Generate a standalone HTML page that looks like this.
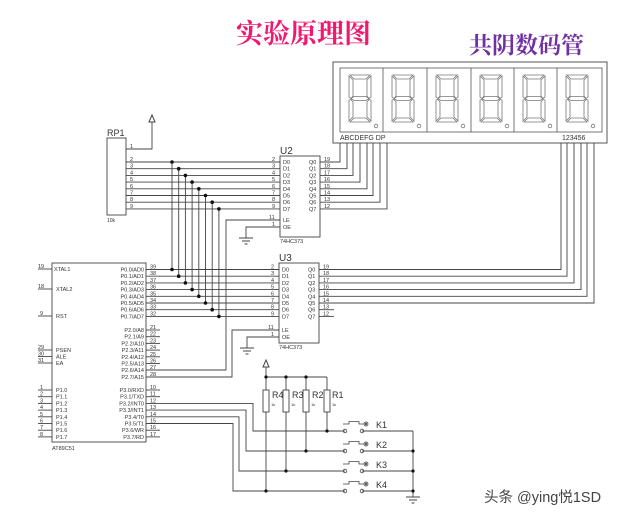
<!DOCTYPE html>
<html><head><meta charset="utf-8">
<style>
html,body{margin:0;padding:0;background:#fff;}
svg{display:block;}
.t{font-family:"Liberation Sans",sans-serif;fill:#333;}
.p{font-size:5.5px;}
</style></head>
<body>
<svg width="634" height="517" viewBox="0 0 634 517" xmlns="http://www.w3.org/2000/svg">
<defs>
<g id="dg" fill="none" stroke="#777" stroke-width="0.8">
<path d="M3,0 L23,0 L19,4 L7,4 Z"/>
<path d="M24,1 L24,22 L22,23.5 L20,21 L20,5 Z"/>
<path d="M24,25 L24,46 L20,42 L20,27 L22,24.5 Z"/>
<path d="M2,1 L6,5 L6,21 L4,23.5 L2,22 Z"/>
<path d="M2,25 L4,24.5 L6,27 L6,42 L2,46 Z"/>
<path d="M4,23.5 L7,21.5 L19,21.5 L22,23.5 L19,25.5 L7,25.5 Z"/>
<path d="M3,47 L7,43 L19,43 L23,47 Z"/>
<circle cx="29" cy="51" r="1.8"/>
</g>
<g id="gnd" stroke="#444" stroke-width="1" fill="none">
<line x1="-7" y1="0" x2="7" y2="0"/><line x1="-4" y1="3" x2="4" y2="3"/><line x1="-1.5" y1="6" x2="1.5" y2="6"/>
</g>
<g id="pwr" stroke="#444" stroke-width="1" fill="none">
<path d="M-3,7 L0,0 L3,7 Z"/>
</g>
<g id="btn" stroke="#444" stroke-width="0.8" fill="none">
<circle cx="345" cy="0" r="1.8"/><circle cx="362" cy="0" r="1.8"/>
<path d="M343,-7 L349,-7 L349,-9.5 L359,-9.5 L359,-7 L364,-7"/>
<circle cx="366" cy="-7" r="2"/><circle cx="366" cy="-7" r="0.8"/>
</g>
</defs>

<text x="236" y="43" font-family="'Liberation Serif','Noto Serif CJK SC',serif" font-size="27" font-weight="bold" fill="#f0186f">实验原理图</text>
<text x="469" y="53" font-family="'Liberation Serif','Noto Serif CJK SC',serif" font-size="23" font-weight="bold" fill="#7030a0">共阴数码管</text>

<rect x="333" y="62" width="274" height="81" fill="none" stroke="#555" stroke-width="1"/>
<rect x="340" y="68" width="262" height="64" fill="none" stroke="#555" stroke-width="0.8"/>
<g stroke="#555" stroke-width="0.8">
<line x1="383" y1="68" x2="383" y2="132"/><line x1="427" y1="68" x2="427" y2="132"/><line x1="471" y1="68" x2="471" y2="132"/><line x1="514" y1="68" x2="514" y2="132"/><line x1="557" y1="68" x2="557" y2="132"/>
</g>
<use href="#dg" x="347" y="75"/><use href="#dg" x="390" y="75"/><use href="#dg" x="434" y="75"/><use href="#dg" x="478" y="75"/><use href="#dg" x="521" y="75"/><use href="#dg" x="564" y="75"/>
<text x="340" y="140" class="t" font-size="7">ABCDEFG  DP</text>
<text x="562" y="140" class="t" font-size="7">123456</text>

<g stroke="#444" stroke-width="0.9" fill="none">
<path d="M320,162 H340 V143"/><path d="M320,168.7 H347 V143"/><path d="M320,175.4 H353 V143"/><path d="M320,182.1 H360 V143"/>
<path d="M320,188.8 H367 V143"/><path d="M320,195.5 H373 V143"/><path d="M320,202.2 H380 V143"/><path d="M320,208.9 H387 V143"/>
<path d="M319,269.5 H561 V143"/><path d="M319,276.2 H567 V143"/><path d="M319,282.9 H574 V143"/><path d="M319,289.6 H581 V143"/>
<path d="M319,296.3 H587 V143"/><path d="M319,303 H594 V143"/>
<line x1="319" y1="309.7" x2="334" y2="309.7"/><line x1="319" y1="316.4" x2="334" y2="316.4"/>

<rect x="107" y="138" width="19" height="77"/>
<path d="M126,149 H152 V122"/>
<line x1="126" y1="162" x2="280" y2="162"/><line x1="126" y1="168.7" x2="280" y2="168.7"/><line x1="126" y1="175.4" x2="280" y2="175.4"/><line x1="126" y1="182.1" x2="280" y2="182.1"/>
<line x1="126" y1="188.8" x2="280" y2="188.8"/><line x1="126" y1="195.5" x2="280" y2="195.5"/><line x1="126" y1="202.2" x2="280" y2="202.2"/><line x1="126" y1="208.9" x2="280" y2="208.9"/>

<rect x="280" y="156" width="40" height="81"/>
<path d="M146,370 H226 V220 H280"/>
<path d="M280,227 H246 V238"/>
<rect x="279" y="263" width="40" height="80"/>
<path d="M146,377 H232 V330 H279"/>
<path d="M279,337 H247 V348"/>

<line x1="172" y1="162" x2="172" y2="269.5"/><line x1="178.7" y1="168.7" x2="178.7" y2="276.2"/><line x1="185.4" y1="175.4" x2="185.4" y2="282.9"/><line x1="192.1" y1="182.1" x2="192.1" y2="289.6"/>
<line x1="198.8" y1="188.8" x2="198.8" y2="296.3"/><line x1="205.5" y1="195.5" x2="205.5" y2="303"/><line x1="212.2" y1="202.2" x2="212.2" y2="309.7"/><line x1="218.9" y1="208.9" x2="218.9" y2="316.4"/>
<line x1="146" y1="269.5" x2="279" y2="269.5"/><line x1="146" y1="276.2" x2="279" y2="276.2"/><line x1="146" y1="282.9" x2="279" y2="282.9"/><line x1="146" y1="289.6" x2="279" y2="289.6"/>
<line x1="146" y1="296.3" x2="279" y2="296.3"/><line x1="146" y1="303" x2="279" y2="303"/><line x1="146" y1="309.7" x2="279" y2="309.7"/><line x1="146" y1="316.4" x2="279" y2="316.4"/>

<rect x="52" y="263" width="94" height="179"/>
<line x1="38" y1="269" x2="52" y2="269"/><line x1="38" y1="289" x2="52" y2="289"/><line x1="38" y1="316" x2="52" y2="316"/>
<line x1="38" y1="350" x2="52" y2="350"/><line x1="38" y1="356.5" x2="52" y2="356.5"/><line x1="38" y1="363" x2="52" y2="363"/>
<line x1="38" y1="390" x2="52" y2="390"/><line x1="38" y1="396.7" x2="52" y2="396.7"/><line x1="38" y1="403.4" x2="52" y2="403.4"/><line x1="38" y1="410.1" x2="52" y2="410.1"/>
<line x1="38" y1="416.8" x2="52" y2="416.8"/><line x1="38" y1="423.5" x2="52" y2="423.5"/><line x1="38" y1="430.2" x2="52" y2="430.2"/><line x1="38" y1="436.9" x2="52" y2="436.9"/>
<line x1="146" y1="330" x2="160" y2="330"/><line x1="146" y1="336.7" x2="160" y2="336.7"/><line x1="146" y1="343.4" x2="160" y2="343.4"/><line x1="146" y1="350.1" x2="160" y2="350.1"/>
<line x1="146" y1="356.8" x2="160" y2="356.8"/><line x1="146" y1="363.5" x2="160" y2="363.5"/>
<line x1="146" y1="390" x2="160" y2="390"/><line x1="146" y1="396.7" x2="160" y2="396.7"/>
<line x1="146" y1="430.2" x2="160" y2="430.2"/><line x1="146" y1="436.9" x2="160" y2="436.9"/>
<path d="M146,403.4 H253 V431 H345"/>
<path d="M146,410.1 H246 V451 H345"/>
<path d="M146,416.8 H239 V471 H345"/>
<path d="M146,423.5 H233 V491 H345"/>

<line x1="266" y1="367" x2="266" y2="491"/>
<line x1="266" y1="377" x2="327" y2="377"/>
<line x1="286" y1="377" x2="286" y2="471"/>
<line x1="306" y1="377" x2="306" y2="451"/>
<line x1="327" y1="377" x2="327" y2="431"/>
<line x1="362" y1="431" x2="413" y2="431"/><line x1="362" y1="451" x2="413" y2="451"/><line x1="362" y1="471" x2="413" y2="471"/><line x1="362" y1="491" x2="413" y2="491"/>
<line x1="413" y1="431" x2="413" y2="497"/>
</g>
<g fill="#fff" stroke="#444" stroke-width="0.9">
<rect x="263" y="390" width="6" height="22"/><rect x="283" y="390" width="6" height="22"/><rect x="303" y="390" width="6" height="22"/><rect x="324" y="390" width="6" height="22"/>
</g>
<use href="#btn" y="431"/><use href="#btn" y="451"/><use href="#btn" y="471"/><use href="#btn" y="491"/>
<use href="#pwr" x="152" y="115"/><use href="#pwr" x="266" y="360"/>
<use href="#gnd" x="246" y="238"/><use href="#gnd" x="247" y="348"/><use href="#gnd" x="413" y="497"/>

<g fill="#111">
<circle cx="172" cy="162" r="1.8"/><circle cx="178.7" cy="168.7" r="1.8"/><circle cx="185.4" cy="175.4" r="1.8"/><circle cx="192.1" cy="182.1" r="1.8"/>
<circle cx="198.8" cy="188.8" r="1.8"/><circle cx="205.5" cy="195.5" r="1.8"/><circle cx="212.2" cy="202.2" r="1.8"/><circle cx="218.9" cy="208.9" r="1.8"/>
<circle cx="172" cy="269.5" r="1.8"/><circle cx="178.7" cy="276.2" r="1.8"/><circle cx="185.4" cy="282.9" r="1.8"/><circle cx="192.1" cy="289.6" r="1.8"/>
<circle cx="198.8" cy="296.3" r="1.8"/><circle cx="205.5" cy="303" r="1.8"/><circle cx="212.2" cy="309.7" r="1.8"/><circle cx="218.9" cy="316.4" r="1.8"/>
<circle cx="266" cy="377" r="1.6"/><circle cx="286" cy="377" r="1.6"/><circle cx="306" cy="377" r="1.6"/>
<circle cx="327" cy="431" r="1.6"/><circle cx="306" cy="451" r="1.6"/><circle cx="286" cy="471" r="1.6"/><circle cx="266" cy="491" r="1.6"/>
<circle cx="413" cy="451" r="1.6"/><circle cx="413" cy="471" r="1.6"/><circle cx="413" cy="491" r="1.6"/>
</g>

<text x="107" y="136" class="t" font-size="9">RP1</text>
<text x="107" y="222" class="t" font-size="5">10k</text>
<g class="t p">
<text x="130" y="148">1</text>
<text x="130" y="161">2</text><text x="130" y="167.7">3</text><text x="130" y="174.4">4</text><text x="130" y="181.1">5</text><text x="130" y="187.8">6</text><text x="130" y="194.5">7</text><text x="130" y="201.2">8</text><text x="130" y="207.9">9</text>
<text x="272" y="161">2</text><text x="272" y="167.7">3</text><text x="272" y="174.4">4</text><text x="272" y="181.1">5</text><text x="272" y="187.8">6</text><text x="272" y="194.5">7</text><text x="272" y="201.2">8</text><text x="272" y="207.9">9</text>
<text x="283" y="164">D0</text><text x="283" y="170.7">D1</text><text x="283" y="177.4">D2</text><text x="283" y="184.1">D3</text><text x="283" y="190.8">D4</text><text x="283" y="197.5">D5</text><text x="283" y="204.2">D6</text><text x="283" y="210.9">D7</text>
<text x="309" y="164">Q0</text><text x="309" y="170.7">Q1</text><text x="309" y="177.4">Q2</text><text x="309" y="184.1">Q3</text><text x="309" y="190.8">Q4</text><text x="309" y="197.5">Q5</text><text x="309" y="204.2">Q6</text><text x="309" y="210.9">Q7</text>
<text x="324" y="161">19</text><text x="324" y="167.7">18</text><text x="324" y="174.4">17</text><text x="324" y="181.1">16</text><text x="324" y="187.8">15</text><text x="324" y="194.5">14</text><text x="324" y="201.2">13</text><text x="324" y="207.9">12</text>
<text x="269" y="219">11</text><text x="272" y="226">1</text><text x="283" y="222">LE</text><text x="283" y="229">OE</text>
<text x="280" y="243">74HC373</text>
<text x="271" y="268.5">2</text><text x="271" y="275.2">3</text><text x="271" y="281.9">4</text><text x="271" y="288.6">5</text><text x="271" y="295.3">6</text><text x="271" y="302">7</text><text x="271" y="308.7">8</text><text x="271" y="315.4">9</text>
<text x="282" y="271.5">D0</text><text x="282" y="278.2">D1</text><text x="282" y="284.9">D2</text><text x="282" y="291.6">D3</text><text x="282" y="298.3">D4</text><text x="282" y="305">D5</text><text x="282" y="311.7">D6</text><text x="282" y="318.4">D7</text>
<text x="308" y="271.5">Q0</text><text x="308" y="278.2">Q1</text><text x="308" y="284.9">Q2</text><text x="308" y="291.6">Q3</text><text x="308" y="298.3">Q4</text><text x="308" y="305">Q5</text><text x="308" y="311.7">Q6</text><text x="308" y="318.4">Q7</text>
<text x="323" y="268.5">19</text><text x="323" y="275.2">18</text><text x="323" y="281.9">17</text><text x="323" y="288.6">16</text><text x="323" y="295.3">15</text><text x="323" y="302">14</text><text x="323" y="308.7">13</text><text x="323" y="315.4">12</text>
<text x="268" y="329">11</text><text x="271" y="336">1</text><text x="282" y="332">LE</text><text x="282" y="339">OE</text>
<text x="279" y="349">74HC373</text>
<text x="38" y="268">19</text><text x="38" y="288">18</text><text x="40" y="315">9</text>
<text x="38" y="349">29</text><text x="38" y="355.5">30</text><text x="38" y="362">31</text>
<text x="40" y="389">1</text><text x="40" y="395.7">2</text><text x="40" y="402.4">3</text><text x="40" y="409.1">4</text><text x="40" y="415.8">5</text><text x="40" y="422.5">6</text><text x="40" y="429.2">7</text><text x="40" y="435.9">8</text>
<text x="54" y="271">XTAL1</text><text x="56" y="291">XTAL2</text><text x="56" y="318">RST</text>
<text x="56" y="352">PSEN</text><text x="56" y="358.5">ALE</text><text x="56" y="365">EA</text>
<text x="56" y="392">P1.0</text><text x="56" y="398.7">P1.1</text><text x="56" y="405.4">P1.2</text><text x="56" y="412.1">P1.3</text><text x="56" y="418.8">P1.4</text><text x="56" y="425.5">P1.5</text><text x="56" y="432.2">P1.6</text><text x="56" y="438.9">P1.7</text>
<text x="52" y="450">AT89C51</text>
<g text-anchor="end">
<text x="144" y="271.5">P0.0/AD0</text><text x="144" y="278.2">P0.1/AD1</text><text x="144" y="284.9">P0.2/AD2</text><text x="144" y="291.6">P0.3/AD3</text><text x="144" y="298.3">P0.4/AD4</text><text x="144" y="305">P0.5/AD5</text><text x="144" y="311.7">P0.6/AD6</text><text x="144" y="318.4">P0.7/AD7</text>
<text x="144" y="332">P2.0/A8</text><text x="144" y="338.7">P2.1/A9</text><text x="144" y="345.4">P2.2/A10</text><text x="144" y="352.1">P2.3/A11</text><text x="144" y="358.8">P2.4/A12</text><text x="144" y="365.5">P2.5/A13</text><text x="144" y="372.2">P2.6/A14</text><text x="144" y="378.9">P2.7/A15</text>
<text x="144" y="392">P3.0/RXD</text><text x="144" y="398.7">P3.1/TXD</text><text x="144" y="405.4">P3.2/INT0</text><text x="144" y="412.1">P3.3/INT1</text><text x="144" y="418.8">P3.4/T0</text><text x="144" y="425.5">P3.5/T1</text><text x="144" y="432.2">P3.6/WR</text><text x="144" y="438.9">P3.7/RD</text>
</g>
<text x="150" y="268.5">39</text><text x="150" y="275.2">38</text><text x="150" y="281.9">37</text><text x="150" y="288.6">36</text><text x="150" y="295.3">35</text><text x="150" y="302">34</text><text x="150" y="308.7">33</text><text x="150" y="315.4">32</text>
<text x="150" y="329">21</text><text x="150" y="335.7">22</text><text x="150" y="342.4">23</text><text x="150" y="349.1">24</text><text x="150" y="355.8">25</text><text x="150" y="362.5">26</text><text x="150" y="369.2">27</text><text x="150" y="375.9">28</text>
<text x="150" y="389">10</text><text x="150" y="395.7">11</text><text x="150" y="402.4">12</text><text x="150" y="409.1">13</text><text x="150" y="415.8">14</text><text x="150" y="422.5">15</text><text x="150" y="429.2">16</text><text x="150" y="435.9">17</text>
<text x="271" y="406" font-size="4">1k</text><text x="291" y="406" font-size="4">1k</text><text x="311" y="406" font-size="4">1k</text><text x="332" y="406" font-size="4">1k</text>
</g>
<g class="t" font-size="9">
<text x="272" y="398">R4</text><text x="292" y="398">R3</text><text x="312" y="398">R2</text><text x="332" y="398">R1</text>
<text x="376" y="428">K1</text><text x="376" y="448">K2</text><text x="376" y="468">K3</text><text x="376" y="488">K4</text>
<text x="280" y="154" font-size="10">U2</text><text x="279" y="261" font-size="10">U3</text>
</g>
<text x="484" y="502" font-family="'Liberation Sans','Noto Sans CJK SC',sans-serif" font-size="14.5" fill="#444">头条 @ying悦1SD</text>
</svg>
</body></html>
